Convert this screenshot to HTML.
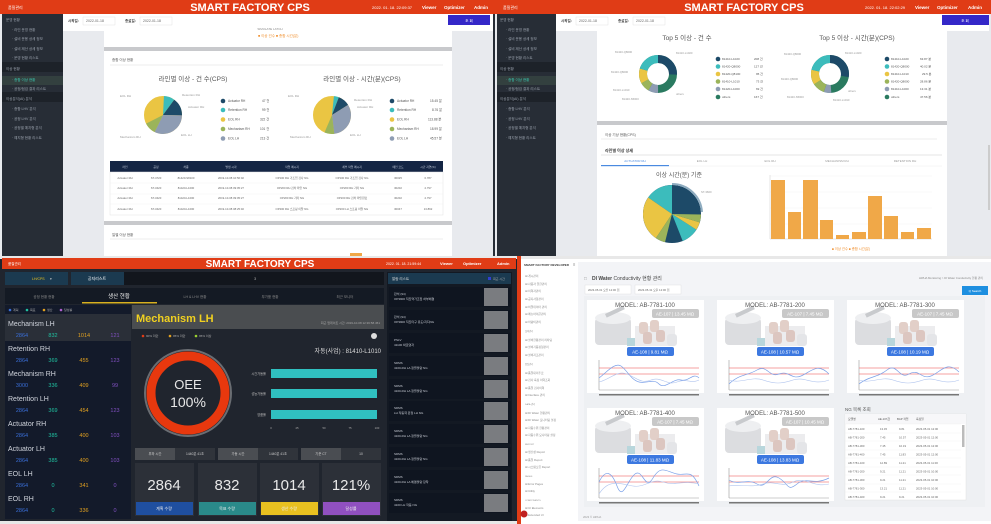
<!DOCTYPE html>
<html><head><meta charset="utf-8"><style>
html,body{margin:0;padding:0;background:#fff;}
svg{display:block;font-family:"Liberation Sans","Noto Sans CJK KR",sans-serif;}
</style></head><body>
<svg width="991" height="524" viewBox="0 0 991 524" xmlns="http://www.w3.org/2000/svg">
<defs>
<g id="mach">
  <rect x="8" y="18" width="36" height="27" rx="4" fill="#dcdde0"/>
  <ellipse cx="26" cy="18" rx="18" ry="6" fill="#eeeff1"/>
  <rect x="18" y="10" width="20" height="4" fill="#c8cacd" transform="rotate(-25 27 12)"/>
  <rect x="48" y="26" width="40" height="20" fill="#ececee"/>
  <rect x="52" y="22" width="9" height="12" rx="3" fill="#e2cfc8"/>
  <rect x="63" y="20" width="9" height="12" rx="3" fill="#e2cfc8"/>
  <rect x="56" y="32" width="9" height="12" rx="3" fill="#dcc6c0"/>
  <rect x="69" y="30" width="9" height="12" rx="3" fill="#dcc6c0"/>
  <rect x="80" y="34" width="10" height="12" rx="3" fill="#e4e5e8"/>
  <rect x="40" y="38" width="8" height="8" fill="#b8d6dc"/>
</g>
<g id="chartax">
  <line x1="12" y1="60" x2="12" y2="90" stroke="#999" stroke-width="0.6"/>
  <line x1="12" y1="90" x2="112" y2="90" stroke="#999" stroke-width="0.6"/>
  <line x1="12" y1="68" x2="112" y2="68" stroke="#f08080" stroke-width="0.8"/>
  <line x1="12" y1="74" x2="112" y2="74" stroke="#f08080" stroke-width="0.8"/>
  <rect x="12" y="94" width="100" height="1.5" fill="#777"/>
</g>
</defs>

<!-- ================= TOP LEFT ================= -->
<rect x="0" y="0" width="495" height="258" fill="#e8eaee"/>
<rect x="0" y="0" width="495" height="14" fill="#e03c16"/>
<text x="250" y="11" text-anchor="middle" font-size="11" font-weight="bold" fill="#fff">SMART FACTORY CPS</text>
<text x="8" y="9" font-size="4" fill="#fff">품질관리</text>
<text x="372" y="9" font-size="4" fill="#fff">2022. 01. 18. 22:09:37</text>
<text x="422" y="9" font-size="4.5" fill="#fff" font-weight="bold">Viewer</text>
<text x="444" y="9" font-size="4.5" fill="#fff" font-weight="bold">Optimizer</text>
<text x="474" y="9" font-size="4.5" fill="#fff" font-weight="bold">Admin</text>
<rect x="2" y="14" width="61" height="244" fill="#272d36"/>
<rect x="2" y="62" width="61" height="10" fill="#1d2229"/>
<rect x="2" y="76" width="61" height="9" fill="#33403f"/>
<rect x="2" y="92" width="61" height="10" fill="#1d2229"/>
<g fill="#9aa2ad" font-size="3.5">
<text x="6" y="21">운영 현황</text><text x="12" y="31">· 라인 운영 현황</text><text x="12" y="40">· 설비 운용 상세 정보</text><text x="12" y="50">· 설비 제산 상세 정보</text><text x="12" y="59">· 운영 현황 리스트</text>
<text x="6" y="70">이상 현황</text><text x="12" y="81" fill="#3bc7b0">· 종합 이상 현황</text><text x="12" y="90">· 공정/점검 결과 리스트</text>
<text x="6" y="100">이상분석(AI) 분석</text><text x="12" y="110">· 종합 LHV 분석</text><text x="12" y="120">· 공정 LHV 분석</text><text x="12" y="129">· 공정별 예지형 분석</text><text x="12" y="139">· 예지형 현황 리스트</text>
</g>
<rect x="63" y="14" width="430" height="17" fill="#fff"/>
<text x="68" y="22" font-size="3.5" fill="#333" font-weight="bold">시작일:</text>
<rect x="83" y="17" width="32" height="8" fill="#fff" stroke="#ddd" stroke-width="0.4"/><text x="86" y="22" font-size="3.5" fill="#666">2022-01-18</text>
<text x="125" y="22" font-size="3.5" fill="#333" font-weight="bold">종료일:</text>
<rect x="140" y="17" width="32" height="8" fill="#fff" stroke="#ddd" stroke-width="0.4"/><text x="143" y="22" font-size="3.5" fill="#666">2022-01-18</text>
<rect x="448" y="15" width="42" height="10" fill="#3427c8"/><text x="469" y="22" font-size="3.5" fill="#fff" text-anchor="middle">조 회</text>
<rect x="493" y="14" width="2" height="244" fill="#272d36"/>
<rect x="104" y="31" width="348" height="226" fill="#fff"/>
<text x="270" y="30" font-size="3" fill="#888" text-anchor="middle">SIMULATE LATCH</text>
<text x="258" y="37" font-size="3.5" fill="#f09030">■ 이상 건수  ■ 총합 시간(분)</text>
<rect x="104" y="47" width="348" height="4" fill="#c8c9cc"/>
<text x="112" y="61" font-size="3.5" fill="#555">종합 이상 현황</text>
<line x1="110" y1="65" x2="443" y2="65" stroke="#ddd" stroke-width="0.6"/>
<text x="193" y="81" font-size="6.5" fill="#555" text-anchor="middle">라인별 이상 - 건 수(CPS)</text>
<text x="362" y="81" font-size="6.5" fill="#555" text-anchor="middle">라인별 이상 - 시간(분)(CPS)</text>
<g transform="translate(163,115) rotate(-90)">
<circle r="9.5" fill="none" stroke="#eac543" stroke-width="19"/>
<circle r="9.5" fill="none" stroke="#3cbcbc" stroke-width="19" stroke-dasharray="5.5 60" stroke-dashoffset="-0.5"/>
<circle r="9.5" fill="none" stroke="#1d4a68" stroke-width="19" stroke-dasharray="9 60" stroke-dashoffset="-6"/>
<circle r="9.5" fill="none" stroke="#8e9cb3" stroke-width="19" stroke-dasharray="19 60" stroke-dashoffset="-15"/>
<circle r="9.5" fill="none" stroke="#9bb45a" stroke-width="19" stroke-dasharray="6 60" stroke-dashoffset="-34"/>
</g>
<g transform="translate(332,115) rotate(-90)">
<circle r="9.5" fill="none" stroke="#eac543" stroke-width="19"/>
<circle r="9.5" fill="none" stroke="#3cbcbc" stroke-width="19" stroke-dasharray="2.5 60" stroke-dashoffset="-1"/>
<circle r="9.5" fill="none" stroke="#1d4a68" stroke-width="19" stroke-dasharray="6 60" stroke-dashoffset="-3.5"/>
<circle r="9.5" fill="none" stroke="#8e9cb3" stroke-width="19" stroke-dasharray="19 60" stroke-dashoffset="-9.5"/>
<circle r="9.5" fill="none" stroke="#9bb45a" stroke-width="19" stroke-dasharray="5 60" stroke-dashoffset="-28.5"/>
</g>
<g font-size="3" fill="#999">
<text x="120" y="97">EOL RH</text><text x="182" y="96">Retention RH</text><text x="188" y="108">Actuator RH</text><text x="120" y="138">Mechanism RH</text><text x="181" y="136">EOL LH</text>
<text x="288" y="97">EOL RH</text><text x="354" y="101">Retention RH</text><text x="357" y="108">Actuator RH</text><text x="290" y="138">Mechanism RH</text><text x="350" y="136">EOL LH</text>
</g>
<g font-size="3.2" fill="#555">
<circle cx="223" cy="101" r="2.3" fill="#1d4a68"/><text x="228" y="102">Actuator RH</text><text x="262" y="102">47 건</text>
<circle cx="223" cy="110" r="2.3" fill="#3cbcbc"/><text x="228" y="111">Retention RH</text><text x="262" y="111">99 건</text>
<circle cx="223" cy="119.5" r="2.3" fill="#eac543"/><text x="228" y="120.5">EOL RH</text><text x="260" y="120.5">322 건</text>
<circle cx="223" cy="129" r="2.3" fill="#9bb45a"/><text x="228" y="130">Mechanism RH</text><text x="260" y="130">101 건</text>
<circle cx="223" cy="138.5" r="2.3" fill="#8e9cb3"/><text x="228" y="139.5">EOL LH</text><text x="260" y="139.5">213 건</text>
<circle cx="392" cy="101" r="2.3" fill="#1d4a68"/><text x="397" y="102">Actuator RH</text><text x="430" y="102">15.45 분</text>
<circle cx="392" cy="110" r="2.3" fill="#3cbcbc"/><text x="397" y="111">Retention RH</text><text x="432" y="111">8.76 분</text>
<circle cx="392" cy="119.5" r="2.3" fill="#eac543"/><text x="397" y="120.5">EOL RH</text><text x="428" y="120.5">113.88 분</text>
<circle cx="392" cy="129" r="2.3" fill="#9bb45a"/><text x="397" y="130">Mechanism RH</text><text x="430" y="130">18.99 분</text>
<circle cx="392" cy="138.5" r="2.3" fill="#8e9cb3"/><text x="397" y="139.5">EOL LH</text><text x="430" y="139.5">45.57 분</text>
</g>
<rect x="110" y="161" width="333" height="11" fill="#142544"/>
<rect x="110" y="172" width="333" height="43" fill="#fff" stroke="#e2e2e2" stroke-width="0.5"/>
<g font-size="2.8" fill="#c8cfdd" text-anchor="middle">
<text x="125" y="168">라인</text><text x="156" y="168">공정</text><text x="186" y="168">차종</text><text x="231" y="168">발생 시각</text><text x="292" y="168">작업 메시지</text><text x="352" y="168">세부 작업 메시지</text><text x="398" y="168">메인 코드</text><text x="428" y="168">시간 지연(%)</text>
</g>
<g font-size="2.8" fill="#666" text-anchor="middle">
<text x="125" y="179">Actuator RH</text><text x="156" y="179">ST-4720</text><text x="186" y="179">81420-S8100</text><text x="231" y="179">2019-10-08 10:56:02</text><text x="292" y="179">OP100 RH 가조립 검사 NG</text><text x="352" y="179">OP100 RH 가조립 검사 NG</text><text x="398" y="179">30025</text><text x="428" y="179">0.787</text>
<text x="125" y="189">Actuator RH</text><text x="156" y="189">ST-3420</text><text x="186" y="189">81420-L1000</text><text x="231" y="189">2019-10-08 09:05:27</text><text x="292" y="189">OP200 RH 검차 확인 NG</text><text x="352" y="189">OP200 RH 기타 NG</text><text x="398" y="189">30202</text><text x="428" y="189">2.797</text>
<text x="125" y="199">Actuator RH</text><text x="156" y="199">ST-3420</text><text x="186" y="199">81420-L1000</text><text x="231" y="199">2019-10-08 09:05:27</text><text x="292" y="199">OP200 RH 기타 NG</text><text x="352" y="199">OP200 RH 검차 확인완료</text><text x="398" y="199">30202</text><text x="428" y="199">2.797</text>
<text x="125" y="210">Actuator RH</text><text x="156" y="210">ST-3420</text><text x="186" y="210">81420-L1000</text><text x="231" y="210">2019-10-08 08:25:40</text><text x="292" y="210">OP200 RH 스프링 이탈 NG</text><text x="352" y="210">OP200 LH 스프링 이탈 NG</text><text x="398" y="210">30047</text><text x="428" y="210">13.892</text>
</g>
<g stroke="#eee" stroke-width="0.4"><line x1="110" y1="183" x2="443" y2="183"/><line x1="110" y1="194" x2="443" y2="194"/><line x1="110" y1="204" x2="443" y2="204"/></g>
<rect x="104" y="221" width="348" height="4" fill="#c8c9cc"/>
<text x="112" y="236" font-size="3.5" fill="#555">일별 이상 현황</text>
<line x1="110" y1="239" x2="443" y2="239" stroke="#ddd" stroke-width="0.6"/>
<rect x="350" y="253" width="12" height="4" fill="#f0a848"/>

<!-- ================= TOP RIGHT ================= -->
<rect x="495" y="0" width="496" height="258" fill="#e8eaee"/>
<rect x="495" y="0" width="496" height="14" fill="#e03c16"/>
<text x="744" y="11" text-anchor="middle" font-size="11" font-weight="bold" fill="#fff">SMART FACTORY CPS</text>
<text x="503" y="9" font-size="4" fill="#fff">품질관리</text>
<text x="865" y="9" font-size="4" fill="#fff">2022. 01. 18. 22:02:29</text>
<text x="915" y="9" font-size="4.5" fill="#fff" font-weight="bold">Viewer</text>
<text x="937" y="9" font-size="4.5" fill="#fff" font-weight="bold">Optimizer</text>
<text x="968" y="9" font-size="4.5" fill="#fff" font-weight="bold">Admin</text>
<rect x="497" y="14" width="59" height="244" fill="#272d36"/>
<rect x="497" y="62" width="59" height="10" fill="#1d2229"/>
<rect x="497" y="76" width="59" height="9" fill="#33403f"/>
<rect x="497" y="92" width="59" height="10" fill="#1d2229"/>
<g fill="#9aa2ad" font-size="3.5">
<text x="500" y="21">운영 현황</text><text x="506" y="31">· 라인 운영 현황</text><text x="506" y="40">· 설비 운용 상세 정보</text><text x="506" y="50">· 설비 제산 상세 정보</text><text x="506" y="59">· 운영 현황 리스트</text>
<text x="500" y="70">이상 현황</text><text x="506" y="81" fill="#3bc7b0">· 종합 이상 현황</text><text x="506" y="90">· 공정/점검 결과 리스트</text>
<text x="500" y="100">이상분석(AI) 분석</text><text x="506" y="110">· 종합 LHV 분석</text><text x="506" y="120">· 공정 LHV 분석</text><text x="506" y="129">· 공정별 예지형 분석</text><text x="506" y="139">· 예지형 현황 리스트</text>
</g>
<rect x="556" y="14" width="433" height="17" fill="#fff"/>
<text x="561" y="22" font-size="3.5" fill="#333" font-weight="bold">시작일:</text>
<rect x="576" y="17" width="32" height="8" fill="#fff" stroke="#ddd" stroke-width="0.4"/><text x="579" y="22" font-size="3.5" fill="#666">2022-01-18</text>
<text x="618" y="22" font-size="3.5" fill="#333" font-weight="bold">종료일:</text>
<rect x="633" y="17" width="32" height="8" fill="#fff" stroke="#ddd" stroke-width="0.4"/><text x="636" y="22" font-size="3.5" fill="#666">2022-01-18</text>
<rect x="942" y="15" width="47" height="10" fill="#3427c8"/><text x="965" y="22" font-size="3.5" fill="#fff" text-anchor="middle">조 회</text>
<rect x="597" y="31" width="350" height="227" fill="#fff"/>
<text x="687" y="40" font-size="6.5" fill="#555" text-anchor="middle">Top 5 이상 - 건 수</text>
<text x="857" y="40" font-size="6.5" fill="#555" text-anchor="middle">Top 5 이상 - 시간(분)(CPS)</text>
<g transform="translate(658,74) rotate(-90)" fill="none" stroke-width="8">
<circle r="15" stroke="#2a7a60"/>
<circle r="15" stroke="#1d4a68" stroke-dasharray="24 100"/>
<circle r="15" stroke="#8e9cb3" stroke-dasharray="8 100" stroke-dashoffset="-47"/>
<circle r="15" stroke="#9bb45a" stroke-dasharray="8 100" stroke-dashoffset="-55"/>
<circle r="15" stroke="#eac543" stroke-dasharray="12 100" stroke-dashoffset="-63"/>
<circle r="15" stroke="#3cbcbc" stroke-dasharray="19.3 100" stroke-dashoffset="-75"/>
</g>
<g transform="translate(830,74) rotate(-90)" fill="none" stroke-width="8">
<circle r="15" stroke="#2a7a60"/>
<circle r="15" stroke="#1d4a68" stroke-dasharray="26 100"/>
<circle r="15" stroke="#8e9cb3" stroke-dasharray="6 100" stroke-dashoffset="-46"/>
<circle r="15" stroke="#9bb45a" stroke-dasharray="10 100" stroke-dashoffset="-52"/>
<circle r="15" stroke="#eac543" stroke-dasharray="12 100" stroke-dashoffset="-62"/>
<circle r="15" stroke="#3cbcbc" stroke-dasharray="20.3 100" stroke-dashoffset="-74"/>
</g>
<g font-size="2.8" fill="#999">
<text x="615" y="53">81420-Q8000</text><text x="676" y="54">81410-L1020</text><text x="611" y="73">81420-Q8000</text><text x="613" y="91">81410-L1010</text><text x="622" y="100">81420-S5000</text><text x="676" y="95">others</text>
<text x="784" y="55">81420-Q8000</text><text x="845" y="54">81410-L1020</text><text x="781" y="80">81420-Q8000</text><text x="787" y="98">81420-S5000</text><text x="833" y="101">81410-L1010</text><text x="848" y="92">others</text>
</g>
<g font-size="3" fill="#555">
<circle cx="718" cy="59" r="2.3" fill="#1d4a68"/><text x="722" y="60">81410-L1020</text><text x="754" y="60">208 건</text>
<circle cx="718" cy="66.5" r="2.3" fill="#3cbcbc"/><text x="722" y="67.5">81420-Q8000</text><text x="754" y="67.5">127 건</text>
<circle cx="718" cy="74" r="2.3" fill="#eac543"/><text x="722" y="75">81420-Q8100</text><text x="756" y="75">95 건</text>
<circle cx="718" cy="81.5" r="2.3" fill="#9bb45a"/><text x="722" y="82.5">81410-L1010</text><text x="756" y="82.5">73 건</text>
<circle cx="718" cy="89" r="2.3" fill="#8e9cb3"/><text x="722" y="90">81420-L1000</text><text x="756" y="90">69 건</text>
<circle cx="718" cy="97" r="2.3" fill="#2a7a60"/><text x="722" y="98">others</text><text x="754" y="98">167 건</text>
<circle cx="887" cy="59" r="2.3" fill="#1d4a68"/><text x="891" y="60">81410-L1020</text><text x="920" y="60">63.87 분</text>
<circle cx="887" cy="66.5" r="2.3" fill="#3cbcbc"/><text x="891" y="67.5">81420-Q8000</text><text x="920" y="67.5">40.02 분</text>
<circle cx="887" cy="74" r="2.3" fill="#eac543"/><text x="891" y="75">81410-L1010</text><text x="922" y="75">29.5 분</text>
<circle cx="887" cy="81.5" r="2.3" fill="#9bb45a"/><text x="891" y="82.5">81420-Q8000</text><text x="920" y="82.5">28.86 분</text>
<circle cx="887" cy="89" r="2.3" fill="#8e9cb3"/><text x="891" y="90">81410-L1000</text><text x="920" y="90">13.31 분</text>
<circle cx="887" cy="97" r="2.3" fill="#2a7a60"/><text x="891" y="98">others</text><text x="920" y="98">47.56 분</text>
</g>
<rect x="597" y="121" width="350" height="4" fill="#c8c9cc"/>
<text x="605" y="136" font-size="3.5" fill="#555">이상 기상 현황(CPS)</text>
<line x1="601" y1="139" x2="937" y2="139" stroke="#ddd" stroke-width="0.6"/>
<text x="605" y="152" font-size="4" fill="#333" font-weight="bold">라인별 이상 상세</text>
<line x1="601" y1="155" x2="942" y2="155" stroke="#ccc" stroke-width="0.6"/>
<g font-size="3" fill="#999" text-anchor="middle">
<text x="635" y="162" fill="#4a8ae0">ACTUATOR RH</text><text x="702" y="162">EOL LH</text><text x="770" y="162">EOL RH</text><text x="837" y="162">MECHANISM RH</text><text x="905" y="162">RETENTION RH</text>
</g>
<rect x="601" y="165" width="68" height="1.2" fill="#4a8ae0"/>
<line x1="669" y1="166" x2="942" y2="166" stroke="#eee" stroke-width="0.5"/>
<text x="679" y="177" font-size="6" fill="#555" text-anchor="middle">이상 시간(분) 기준</text>
<g transform="translate(672,214) rotate(-90)" fill="none" stroke-width="29">
<circle r="14.5" stroke="#1d4a68"/>
<circle r="14.5" stroke="#3cbcbc" stroke-dasharray="14 100" stroke-dashoffset="-77"/>
<circle r="14.5" stroke="#eac543" stroke-dasharray="23 100" stroke-dashoffset="-54"/>
<circle r="14.5" stroke="#9bb45a" stroke-dasharray="5 100" stroke-dashoffset="-49"/>
<circle r="14.5" stroke="#3cbcbc" stroke-dasharray="9 100" stroke-dashoffset="-31"/>
<circle r="14.5" stroke="#eac543" stroke-dasharray="4 100" stroke-dashoffset="-27"/>
<circle r="14.5" stroke="#9bb45a" stroke-dasharray="4 100" stroke-dashoffset="-23"/>
</g>
<path d="M 672 184 A 30 30 0 0 1 702 212" fill="none" stroke="#8eacc0" stroke-width="2"/>
<text x="701" y="193" font-size="2.8" fill="#999">ST-3600</text>
<g stroke="#eee" stroke-width="0.4"><line x1="770" y1="176" x2="932" y2="176"/><line x1="770" y1="192" x2="932" y2="192"/><line x1="770" y1="208" x2="932" y2="208"/><line x1="770" y1="224" x2="932" y2="224"/></g>
<line x1="770" y1="175" x2="770" y2="239" stroke="#ccc" stroke-width="0.5"/>
<line x1="770" y1="239" x2="932" y2="239" stroke="#ccc" stroke-width="0.5"/>
<g fill="#f0a848">
<rect x="771" y="180" width="14" height="59"/><rect x="788" y="212" width="13" height="27"/><rect x="803" y="180" width="15" height="59"/><rect x="820" y="220" width="13" height="19"/><rect x="836" y="235" width="13" height="4"/><rect x="852" y="232" width="14" height="7"/><rect x="868" y="196" width="14" height="43"/><rect x="884" y="216" width="14" height="23"/><rect x="901" y="232" width="13" height="7"/><rect x="917" y="228" width="14" height="11"/>
</g>
<text x="851" y="250" font-size="3.3" fill="#f09030" text-anchor="middle">■ 이상 건수  ■ 총합 시간(분)</text>
<rect x="988" y="145" width="2" height="65" fill="#ccc"/>
<rect x="495" y="256" width="20" height="2" fill="#e03c16"/>

<!-- ================= BOTTOM LEFT ================= -->
<rect x="0" y="256" width="517" height="268" fill="#20252e"/>
<rect x="0" y="256" width="517" height="3" fill="#e8e8e8"/>
<rect x="2" y="258" width="514" height="11" fill="#e03c16"/>
<text x="260" y="267" text-anchor="middle" font-size="10" font-weight="bold" fill="#fff">SMART FACTORY CPS</text>
<text x="8" y="265" font-size="3.5" fill="#fff">품질관리</text>
<text x="386" y="265" font-size="3.5" fill="#fff">2022. 01. 18. 21:59:44</text>
<text x="440" y="265" font-size="4" fill="#fff" font-weight="bold">Viewer</text>
<text x="463" y="265" font-size="4" fill="#fff" font-weight="bold">Optimizer</text>
<text x="497" y="265" font-size="4" fill="#fff" font-weight="bold">Admin</text>
<rect x="5" y="272" width="63" height="13" fill="#1b3a50"/><text x="32" y="280" font-size="3.5" fill="#e8c020">LH/CPS</text><text x="50" y="280" font-size="3.5" fill="#ccc">▾</text>
<rect x="71" y="272" width="53" height="13" fill="#1b3a50"/><text x="97" y="280" font-size="4" fill="#fff" text-anchor="middle">공지리스트</text>
<rect x="124" y="272" width="260" height="13" fill="#12161d"/><text x="254" y="280" font-size="4" fill="#aaa">3</text>
<rect x="5" y="288" width="379" height="16" fill="#141a24"/>
<g font-size="3.5" fill="#888" text-anchor="middle"><text x="44" y="298">공정 현황 현황</text><text x="195" y="298">LH &amp; LHV 현황</text><text x="270" y="298">부가품 현황</text><text x="345" y="298">최근 모니터</text></g>
<text x="119" y="298" font-size="5.5" fill="#eee" text-anchor="middle">생산 현황</text>
<rect x="82" y="302" width="75" height="1.5" fill="#d8b020"/>
<rect x="5" y="305" width="126" height="214" fill="#131a2a"/>
<g font-size="3"><circle cx="10" cy="310" r="1.3" fill="#3a6fd8"/><text x="13" y="311" fill="#aaa">계획</text><circle cx="27" cy="310" r="1.3" fill="#20c0a0"/><text x="30" y="311" fill="#aaa">목표</text><circle cx="44" cy="310" r="1.3" fill="#e0a020"/><text x="47" y="311" fill="#aaa">생산</text><circle cx="61" cy="310" r="1.3" fill="#b060d0"/><text x="64" y="311" fill="#aaa">달성률</text></g>
<rect x="5" y="314" width="126" height="27" fill="#2a2f38"/>
<g font-size="7" fill="#d0d4dc">
<text x="8" y="326">Mechanism LH</text><text x="8" y="351">Retention RH</text><text x="8" y="376">Mechanism RH</text><text x="8" y="401">Retention LH</text><text x="8" y="426">Actuator RH</text><text x="8" y="451">Actuator LH</text><text x="8" y="476">EOL LH</text><text x="8" y="501">EOL RH</text>
</g>
<g font-size="5.5" text-anchor="middle">
<g fill="#3a6fd8"><text x="22" y="337">2864</text><text x="22" y="362">2864</text><text x="22" y="387">3000</text><text x="22" y="412">2864</text><text x="22" y="437">2864</text><text x="22" y="462">2864</text><text x="22" y="487">2864</text><text x="22" y="512">2864</text></g>
<g fill="#20c0a0"><text x="53" y="337">832</text><text x="53" y="362">369</text><text x="53" y="387">336</text><text x="53" y="412">369</text><text x="53" y="437">385</text><text x="53" y="462">385</text><text x="53" y="487">0</text><text x="53" y="512">0</text></g>
<g fill="#e0a020"><text x="84" y="337">1014</text><text x="84" y="362">455</text><text x="84" y="387">409</text><text x="84" y="412">454</text><text x="84" y="437">400</text><text x="84" y="462">400</text><text x="84" y="487">341</text><text x="84" y="512">336</text></g>
<g fill="#8050c0"><text x="115" y="337">121</text><text x="115" y="362">123</text><text x="115" y="387">99</text><text x="115" y="412">123</text><text x="115" y="437">103</text><text x="115" y="462">103</text><text x="115" y="487">0</text><text x="115" y="512">0</text></g>
</g>
<rect x="132" y="305" width="252" height="24" fill="#4a4d50"/>
<text x="136" y="322" font-size="11" font-weight="bold" fill="#f0d020">Mechanism LH</text>
<text x="380" y="324" font-size="3" fill="#aaa" text-anchor="end">최근 업데이트 시간: 2019-10-08 12:36:58.451</text>
<g font-size="3"><circle cx="143" cy="336" r="1.3" fill="#e03c16"/><text x="146" y="337" fill="#aaa">90% 미만</text><circle cx="170" cy="336" r="1.3" fill="#e0a020"/><text x="173" y="337" fill="#aaa">95% 미만</text><circle cx="196" cy="336" r="1.3" fill="#9ad030"/><text x="199" y="337" fill="#aaa">95% 이상</text></g>
<circle cx="374" cy="336" r="3" fill="#ddd"/>
<text x="381" y="353" font-size="6" fill="#ddd" text-anchor="end">자동(사업) : 81410-L1010</text>
<circle cx="188" cy="393" r="43" fill="none" stroke="#6a6d72" stroke-width="2"/>
<circle cx="188" cy="393" r="37" fill="none" stroke="#e8380e" stroke-width="9"/>
<text x="188" y="389" font-size="13" fill="#e8e8e8" text-anchor="middle">OEE</text>
<text x="188" y="407" font-size="14" fill="#e8e8e8" text-anchor="middle">100%</text>
<g font-size="3.2" fill="#bbb" text-anchor="end"><text x="266" y="375">시간가동률</text><text x="266" y="395">성능가동률</text><text x="266" y="416">양품률</text></g>
<g fill="#30c0c0"><rect x="271" y="369" width="106" height="9"/><rect x="271" y="389" width="106" height="9"/><rect x="271" y="410" width="106" height="9"/></g>
<g font-size="2.8" fill="#aaa" text-anchor="middle"><text x="271" y="429">0</text><text x="297" y="429">25</text><text x="324" y="429">50</text><text x="350" y="429">75</text><text x="377" y="429">100</text></g>
<g font-size="3.3" fill="#ccc" text-anchor="middle">
<rect x="135" y="448" width="40" height="12" fill="#4a4d52"/><rect x="175" y="448" width="40" height="12" fill="#30343b"/><text x="155" y="455">부하 시간</text><text x="195" y="455">1440분 41초</text>
<rect x="218" y="448" width="40" height="12" fill="#4a4d52"/><rect x="258" y="448" width="40" height="12" fill="#30343b"/><text x="238" y="455">가동 시간</text><text x="278" y="455">1440분 41초</text>
<rect x="301" y="448" width="40" height="12" fill="#4a4d52"/><rect x="341" y="448" width="40" height="12" fill="#30343b"/><text x="321" y="455">기준 CT</text><text x="361" y="455">10</text>
</g>
<g>
<rect x="135" y="463" width="59" height="53" fill="#2c3038"/><rect x="198" y="463" width="59" height="53" fill="#2c3038"/><rect x="260" y="463" width="59" height="53" fill="#2c3038"/><rect x="322" y="463" width="59" height="53" fill="#2c3038"/>
<rect x="136" y="502" width="57" height="13" fill="#1f4fa0"/><rect x="199" y="502" width="57" height="13" fill="#2a8a8a"/><rect x="261" y="502" width="57" height="13" fill="#e8c020"/><rect x="323" y="502" width="57" height="13" fill="#9050c0"/>
</g>
<g font-size="15" fill="#e8e8e8" text-anchor="middle"><text x="164" y="490">2864</text><text x="227" y="490">832</text><text x="289" y="490">1014</text><text x="351" y="490">121%</text></g>
<g font-size="4" fill="#eee" text-anchor="middle"><text x="164" y="510">계획 수량</text><text x="227" y="510">목표 수량</text><text x="289" y="510">생산 수량</text><text x="351" y="510">달성률</text></g>
<rect x="387" y="272" width="125" height="250" fill="#131923"/>
<rect x="388" y="273" width="123" height="11" fill="#1b3a50"/>
<text x="392" y="280" font-size="3.5" fill="#ddd">알람 리스트</text><rect x="488" y="277" width="3" height="3" fill="#3040d0"/><text x="493" y="280" font-size="3" fill="#aaa">최근 시간</text>
<g>
<rect x="389" y="287" width="122" height="20" fill="#0f1520"/><rect x="389" y="310" width="122" height="20" fill="#0f1520"/><rect x="389" y="333" width="122" height="20" fill="#0f1520"/><rect x="389" y="356" width="122" height="20" fill="#0f1520"/><rect x="389" y="379" width="122" height="20" fill="#0f1520"/><rect x="389" y="401" width="122" height="20" fill="#0f1520"/><rect x="389" y="424" width="122" height="20" fill="#0f1520"/><rect x="389" y="447" width="122" height="20" fill="#0f1520"/><rect x="389" y="470" width="122" height="20" fill="#0f1520"/><rect x="389" y="493" width="122" height="20" fill="#0f1520"/>
</g>
<g fill="#7a7c80">
<rect x="484" y="288" width="24" height="18"/><rect x="484" y="311" width="24" height="18"/><rect x="484" y="334" width="24" height="18"/><rect x="484" y="357" width="24" height="18"/><rect x="484" y="380" width="24" height="18"/><rect x="484" y="402" width="24" height="18"/><rect x="484" y="425" width="24" height="18"/><rect x="484" y="448" width="24" height="18"/><rect x="484" y="471" width="24" height="18"/><rect x="484" y="494" width="24" height="18"/>
</g>
<g font-size="3" fill="#c8ccd4">
<text x="394" y="295">판석 (94)</text><text x="394" y="300">OP3900 직진역가조립 하부체결</text>
<text x="394" y="318">판석 (94)</text><text x="394" y="323">OP3900 직진타구 유도/지지NG</text>
<text x="394" y="341">PSLV</text><text x="394" y="346">41100 박로영자</text>
<text x="394" y="364">SDMS</text><text x="394" y="369">4100-RH LA 정렬불량 NG</text>
<text x="394" y="387">SDMS</text><text x="394" y="392">4100-RH LA 정렬불량 NG</text>
<text x="394" y="409">SDMS</text><text x="394" y="414">LH 작동력 판정 LH NG</text>
<text x="394" y="432">SDMS</text><text x="394" y="437">4100-RH LA 정렬불량 NG</text>
<text x="394" y="455">SDMS</text><text x="394" y="460">4100-RH LA 정렬불량 NG</text>
<text x="394" y="478">SDMS</text><text x="394" y="483">4100-RH LA 체결불량 장착</text>
<text x="394" y="501">SDMS</text><text x="394" y="506">4100 LH 작동 NG</text>
</g>
<rect x="0" y="521" width="517" height="3" fill="#e8e8e8"/>

<!-- ================= BOTTOM RIGHT ================= -->
<rect x="517" y="256" width="474" height="268" fill="#fff"/>
<rect x="517" y="256" width="4" height="268" fill="#e03c16"/>
<rect x="521" y="256" width="470" height="3" fill="#e8e8e8"/>
<text x="524" y="266" font-size="3" fill="#333" font-weight="bold">SMART FACTORY DEVELOPER</text><text x="573" y="266" font-size="4" fill="#555">≡</text>
<g font-size="2.8" fill="#888">
<text x="525" y="277">⊞ 게시관리</text><text x="525" y="285">⊞ 사용자 권한관리</text><text x="525" y="292">⊞ 이력자관리</text><text x="525" y="300">⊞ 공지사항관리</text><text x="525" y="308">⊞ 비밀데이터 관리</text><text x="525" y="315">⊞ 메뉴아이콘관리</text><text x="525" y="323">⊞ 차량이관리</text>
<text x="525" y="332" font-size="2.2">설비관리</text>
<text x="525" y="341">⊞ 설비현황관리 리타팅</text><text x="525" y="348">⊞ 설비기동점형관리</text><text x="525" y="356">⊞ 설비지조관리</text>
<text x="525" y="365" font-size="2.2">품질관리</text>
<text x="525" y="374">⊞ 품질대리추로</text><text x="525" y="381">⊞ 검사 측정 이력조회</text><text x="525" y="389">⊞ 품질 검사이력</text><text x="525" y="396">⊞ Interface 관리</text>
<text x="525" y="405" font-size="2.2">DATA 관리</text>
<text x="525" y="414">⊞ DI Water 현황관리</text><text x="525" y="421">⊞ DI Water 모니터링 설정</text><text x="525" y="429">⊞ 자동수위 현황관리</text><text x="525" y="436">⊞ 자동수위 모니터링 설정</text>
<text x="525" y="445" font-size="2.2">REPORT</text>
<text x="525" y="453">⊞ 생산성 Report</text><text x="525" y="461">⊞ 품질 Report</text><text x="525" y="468">⊞ 시스템오류 Report</text>
<text x="525" y="477" font-size="2.2">PAGES</text>
<text x="525" y="485">⊞ Error Pages</text><text x="525" y="492">⊞ Utility</text>
<text x="525" y="501" font-size="2.2">COMPONENTS</text>
<text x="525" y="509">⊞ UI Elements</text><text x="525" y="516">⊞ Extended UI</text>
</g>
<circle cx="524" cy="514" r="3.5" fill="#c02020"/>
<rect x="578" y="262" width="413" height="259" fill="#f3f4f7"/>
<text x="584" y="280" font-size="4.5" fill="#888">□</text>
<text x="592" y="280" font-size="5" fill="#444"><tspan font-weight="bold">DI Water</tspan> Conductivity 현황 관리</text>
<text x="983" y="279" font-size="2.8" fill="#888" text-anchor="end">HiPHA Monitoring  &gt;  DI Water Conductivity 현황 관리</text>
<rect x="585" y="285" width="46" height="9" fill="#fff" stroke="#ddd" stroke-width="0.4"/><text x="588" y="291" font-size="2.8" fill="#666">2023-05-01 오전 12:00 ▣</text>
<rect x="635" y="285" width="46" height="9" fill="#fff" stroke="#ddd" stroke-width="0.4"/><text x="638" y="291" font-size="2.8" fill="#666">2023-05-31 오후 12:00 ▣</text>
<rect x="962" y="286" width="26" height="9" fill="#1e8fe0"/><text x="975" y="292" font-size="3" fill="#fff" text-anchor="middle">Q Search</text>
<rect x="584" y="296" width="401" height="211" fill="#eef0f3"/>

<g transform="translate(587,300)">
<rect width="117" height="93" fill="#fff"/>
<use href="#mach"/>
<text x="58" y="7" font-size="6" fill="#555" text-anchor="middle">MODEL: AB-7781-100</text>
<rect x="65" y="9" width="47" height="9" rx="2" fill="#c8c8c8"/><text x="88" y="15.5" font-size="4.5" fill="#fff" text-anchor="middle">AE-107 | 13.45 MΩ</text>
<rect x="40" y="47" width="47" height="9" rx="2" fill="#3c78e0"/><text x="63" y="53.5" font-size="4.5" fill="#fff" text-anchor="middle">AE-108 | 9.81 MΩ</text>
<use href="#chartax"/>
<path d="M12 78 C20 72 28 62 34 66 S44 80 52 82 S66 78 72 84 S86 78 94 80 S106 72 112 78" fill="none" stroke="#7aa0e8" stroke-width="0.7"/>
<path d="M12 82 C22 80 30 70 40 74 S54 84 64 80 S80 86 90 82 S104 84 112 80" fill="none" stroke="#b0c4ee" stroke-width="0.6"/>
</g>
<g transform="translate(717,300)">
<rect width="117" height="93" fill="#fff"/>
<use href="#mach"/>
<text x="58" y="7" font-size="6" fill="#555" text-anchor="middle">MODEL: AB-7781-200</text>
<rect x="65" y="9" width="47" height="9" rx="2" fill="#c8c8c8"/><text x="88" y="15.5" font-size="4.5" fill="#fff" text-anchor="middle">AE-107 | 7.45 MΩ</text>
<rect x="40" y="47" width="47" height="9" rx="2" fill="#3c78e0"/><text x="63" y="53.5" font-size="4.5" fill="#fff" text-anchor="middle">AE-108 | 10.57 MΩ</text>
<use href="#chartax"/>
<path d="M12 84 C22 74 30 76 40 70 S52 78 62 74 S74 80 84 76 S100 62 112 74" fill="none" stroke="#7aa0e8" stroke-width="0.7"/>
<path d="M12 80 C24 84 34 76 46 80 S64 84 76 80 S96 86 112 80" fill="none" stroke="#b0c4ee" stroke-width="0.6"/>
</g>
<g transform="translate(847,300)">
<rect width="117" height="93" fill="#fff"/>
<use href="#mach"/>
<text x="58" y="7" font-size="6" fill="#555" text-anchor="middle">MODEL: AB-7781-300</text>
<rect x="65" y="9" width="47" height="9" rx="2" fill="#c8c8c8"/><text x="88" y="15.5" font-size="4.5" fill="#fff" text-anchor="middle">AE-107 | 7.45 MΩ</text>
<rect x="40" y="47" width="47" height="9" rx="2" fill="#3c78e0"/><text x="63" y="53.5" font-size="4.5" fill="#fff" text-anchor="middle">AE-108 | 10.19 MΩ</text>
<use href="#chartax"/>
<path d="M12 84 C22 76 30 78 40 70 S52 80 62 74 S74 80 84 76 S100 60 112 72" fill="none" stroke="#7aa0e8" stroke-width="0.7"/>
<path d="M12 80 C24 84 34 76 46 80 S64 84 76 80 S96 86 112 80" fill="none" stroke="#b0c4ee" stroke-width="0.6"/>
</g>
<g transform="translate(587,408)">
<rect width="117" height="93" fill="#fff"/>
<use href="#mach"/>
<text x="58" y="7" font-size="6" fill="#555" text-anchor="middle">MODEL: AB-7781-400</text>
<rect x="65" y="9" width="47" height="9" rx="2" fill="#c8c8c8"/><text x="88" y="15.5" font-size="4.5" fill="#fff" text-anchor="middle">AE-107 | 7.45 MΩ</text>
<rect x="40" y="47" width="47" height="9" rx="2" fill="#3c78e0"/><text x="63" y="53.5" font-size="4.5" fill="#fff" text-anchor="middle">AE-108 | 11.83 MΩ</text>
<use href="#chartax"/>
<path d="M12 74 C18 62 24 62 30 78 S40 72 48 66 S58 84 66 70 S80 64 90 66 S104 60 112 78" fill="none" stroke="#7aa0e8" stroke-width="0.7"/>
<path d="M12 86 C22 70 34 76 46 78 S64 70 76 74 S96 72 112 76" fill="none" stroke="#b0c4ee" stroke-width="0.6"/>
</g>
<g transform="translate(717,408)">
<rect width="117" height="93" fill="#fff"/>
<use href="#mach"/>
<text x="58" y="7" font-size="6" fill="#555" text-anchor="middle">MODEL: AB-7781-500</text>
<rect x="65" y="9" width="47" height="9" rx="2" fill="#c8c8c8"/><text x="88" y="15.5" font-size="4.5" fill="#fff" text-anchor="middle">AE-107 | 10.45 MΩ</text>
<rect x="40" y="47" width="47" height="9" rx="2" fill="#3c78e0"/><text x="63" y="53.5" font-size="4.5" fill="#fff" text-anchor="middle">AE-108 | 13.83 MΩ</text>
<use href="#chartax"/>
<path d="M12 72 C22 78 30 70 40 76 S52 64 62 70 S70 84 80 76 S96 78 112 70" fill="none" stroke="#7aa0e8" stroke-width="0.7"/>
<path d="M12 78 C24 76 34 80 46 76 S64 80 76 74 S96 80 112 76" fill="none" stroke="#b0c4ee" stroke-width="0.6"/>
</g>
<text x="845" y="411" font-size="4.5" fill="#555">NG 목록 조회</text>
<rect x="845" y="414" width="121" height="86" fill="#fff" stroke="#ddd" stroke-width="0.4"/>
<rect x="845" y="414" width="121" height="10" fill="#f7f7f9"/>
<g font-size="2.8" fill="#555"><text x="848" y="420">모델명</text><text x="878" y="420">AE-107값</text><text x="897" y="420">BAP 작업</text><text x="916" y="420">측정일</text></g>
<g font-size="2.8" fill="#666">
<text x="848" y="430">AB-7781-100</text><text x="880" y="430">13.45</text><text x="899" y="430">9.81</text><text x="916" y="430">2023-05-01 12:00</text>
<text x="848" y="438.5">AB-7781-200</text><text x="880" y="438.5">7.45</text><text x="899" y="438.5">10.57</text><text x="916" y="438.5">2023-05-01 12:00</text>
<text x="848" y="447">AB-7781-300</text><text x="880" y="447">7.45</text><text x="899" y="447">10.19</text><text x="916" y="447">2023-05-01 12:00</text>
<text x="848" y="455.5">AB-7781-400</text><text x="880" y="455.5">7.45</text><text x="899" y="455.5">11.83</text><text x="916" y="455.5">2023-05-01 12:00</text>
<text x="848" y="464">AB-7781-100</text><text x="880" y="464">12.89</text><text x="899" y="464">11.21</text><text x="916" y="464">2023-05-01 11:00</text>
<text x="848" y="472.5">AB-7781-200</text><text x="880" y="472.5">9.21</text><text x="899" y="472.5">11.21</text><text x="916" y="472.5">2023-05-01 10:00</text>
<text x="848" y="481">AB-7781-300</text><text x="880" y="481">9.21</text><text x="899" y="481">11.21</text><text x="916" y="481">2023-05-01 10:00</text>
<text x="848" y="489.5">AB-7781-300</text><text x="880" y="489.5">13.21</text><text x="899" y="489.5">11.21</text><text x="916" y="489.5">2023-05-01 10:00</text>
<text x="848" y="498">AB-7781-400</text><text x="880" y="498">9.21</text><text x="899" y="498">9.21</text><text x="916" y="498">2023-05-01 10:00</text>
</g>
<g stroke="#eee" stroke-width="0.4"><line x1="845" y1="424" x2="961" y2="424"/><line x1="845" y1="433" x2="961" y2="433"/><line x1="845" y1="441" x2="961" y2="441"/><line x1="845" y1="450" x2="961" y2="450"/><line x1="845" y1="458" x2="961" y2="458"/><line x1="845" y1="467" x2="961" y2="467"/><line x1="845" y1="475" x2="961" y2="475"/><line x1="845" y1="484" x2="961" y2="484"/><line x1="845" y1="492" x2="961" y2="492"/></g>
<rect x="962" y="425" width="2.5" height="22" fill="#bbb"/>
<text x="583" y="518" font-size="2.8" fill="#999">2023 © HiPHA</text>
</svg>
</body></html>
